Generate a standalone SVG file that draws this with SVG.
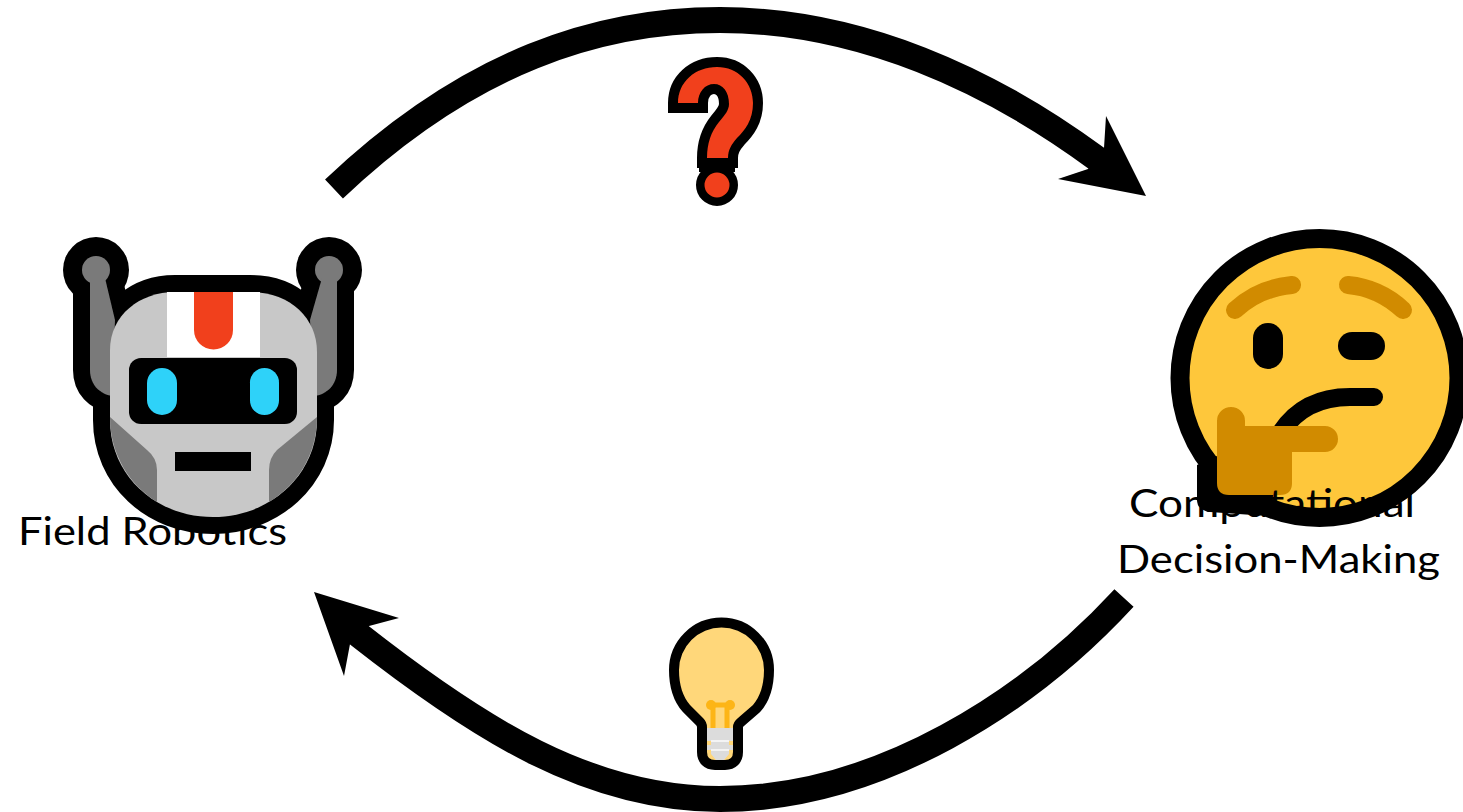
<svg xmlns="http://www.w3.org/2000/svg" width="1463" height="812" viewBox="0 0 1463 812">
<style>
.lbl{font-family:"Lato","Liberation Sans",sans-serif;font-size:39px;fill:#000}
.conn{fill:none;stroke:#000;stroke-width:26}
.out{stroke:#000;stroke-linejoin:round;paint-order:stroke}
.miter{stroke:#000;stroke-linejoin:miter;stroke-miterlimit:6;paint-order:stroke}
.blk{fill:#000;stroke:#000;stroke-linejoin:round}
.brow{fill:none;stroke:#d18b00;stroke-width:18;stroke-linecap:round}
</style>
<defs>
<filter id="soft" filterUnits="userSpaceOnUse" x="0" y="0" width="1463" height="812"><feGaussianBlur stdDeviation="0.6"/></filter>
<path id="armL" d="M90 278V370C90 385 100 394 112 396L115 320L105 278Z"/>
<path id="armR" d="M337 278V370C337 385 327 394 315 396L310 320L322 278Z"/>
<path id="headShape" d="M110 350C110 315 140 292 175 292H250C290 292 317 318 317 352V420C317 475 270 517 213 517C155 517 110 475 110 420Z"/>
</defs>
<rect width="1463" height="812" fill="#fff"/>
<g id="connectors">
<path class="conn" d="M334 189C470 60 600 20 720 20C860 20 990 80 1096 158L1104 164"/>
<polygon points="1106,116 1104,148 1088,169 1058,179 1146,196"/>
<path class="conn" d="M1124 598C1030 700 880 799 720 799C590 799 480 730 359 635L352 630"/>
<polygon points="314,592 399,618 369,626 350,644 344,676"/>
</g>
<g id="node-robot">
<g filter="url(#soft)">
<circle cx="96" cy="270" r="33"/>
<circle cx="329" cy="270" r="33"/>
<use href="#armL" class="blk" stroke-width="34"/>
<use href="#armR" class="blk" stroke-width="34"/>
<use href="#headShape" class="blk" stroke-width="34"/>
<g fill="#7a7a7a">
<circle cx="96" cy="270" r="14"/>
<circle cx="329" cy="270" r="14"/>
<use href="#armL"/>
<use href="#armR"/>
</g>
<use href="#headShape" fill="#c8c8c8"/>
<rect x="167" y="292" width="93" height="65" fill="#fff"/>
<path d="M194 292H233V330A19.500 19.500 0 0 1 194 330Z" fill="#f1401a"/>
<path d="M110 417L147 450Q157 458 157 470V502C130 485 110 455 110 417Z" fill="#7a7a7a"/>
<path d="M317 417L277 450Q269 458 269 470V502C297 485 317 455 317 417Z" fill="#7a7a7a"/>
<rect x="129" y="358" width="168" height="66" rx="12"/>
<rect x="147" y="368" width="30" height="47" rx="15" fill="#2fd2f9"/>
<rect x="250" y="368" width="29" height="47" rx="14.500" fill="#2fd2f9"/>
<rect x="175" y="452" width="76" height="19"/>
</g>
<text class="lbl" x="18" y="545" textLength="269" lengthAdjust="spacingAndGlyphs">Field Robotics</text>
</g>
<g id="node-decision">
<g filter="url(#soft)">
<circle cx="1319.500" cy="378" r="139.500" fill="#fec73a" stroke="#000" stroke-width="19"/>
<path d="M1197 465L1217 456L1275 490L1267 516L1210 512Q1197 510 1197 500Z"/>
<path class="brow" d="M1235 310C1250 296 1270 287 1292 285"/>
<path class="brow" d="M1348 285C1370 287 1388 296 1403 310"/>
<rect x="1253" y="323" width="30" height="46" rx="15"/>
<rect x="1338" y="332" width="47" height="28" rx="14"/>
<path d="M1374 397H1350C1320 397 1297 408 1281 432" fill="none" stroke="#000" stroke-width="18" stroke-linecap="round"/>
<path d="M1231 407A14 14 0 0 1 1245 421V426H1325A13 13 0 0 1 1325 452H1292V483Q1292 495 1280 495H1229Q1217 495 1217 483V421A14 14 0 0 1 1231 407Z" fill="#d18b00"/>
</g>
<text class="lbl" x="1129" y="517" textLength="286" lengthAdjust="spacingAndGlyphs">Computational</text>
<text class="lbl" x="1117" y="573" textLength="323" lengthAdjust="spacingAndGlyphs">Decision-Making</text>
</g>
<g id="node-question" filter="url(#soft)">
<path class="miter" fill="#f1401a" stroke-width="20" d="M678 103C678 82 695 67 717 67C738 67 753 83 753 103C753 120 745 130 737 138C731 145 728 150 728 158H707C707 143 711 132 719 122C725 115 729 110 729 104C729 92 723 84 714 84C705 84 698 92 698 103Z"/>
<rect x="699" y="158" width="36" height="14"/>
<circle cx="717" cy="185" r="16.750" fill="#f1401a" stroke="#000" stroke-width="8.500"/>
</g>
<g id="node-bulb" filter="url(#soft)">
<path class="out" fill="#ffd77a" stroke-width="20" d="M707 730V727Q707 722 703 718L690 705C683 697 679 685 679 670A42.500 42.500 0 1 1 764 670C764 685 760 697 753 705L738 718Q733 722 733 727V752Q733 760 725 760H715Q707 760 707 752Z"/>
<path d="M707 728H733V741H729V745H733V750H729V754L724 760H716L711 754V750H707V745H711V741H707Z" fill="#dcdcdc"/>
<path d="M711 741H729M711 750H729" stroke="#f4f4f4" stroke-width="2"/>
<path d="M713 705V728M727 705V728M711 705H730" fill="none" stroke="#fdb515" stroke-width="5"/>
<circle cx="711" cy="705" r="5" fill="#fdb515"/><circle cx="730" cy="705" r="5" fill="#fdb515"/>
</g>
</svg>
